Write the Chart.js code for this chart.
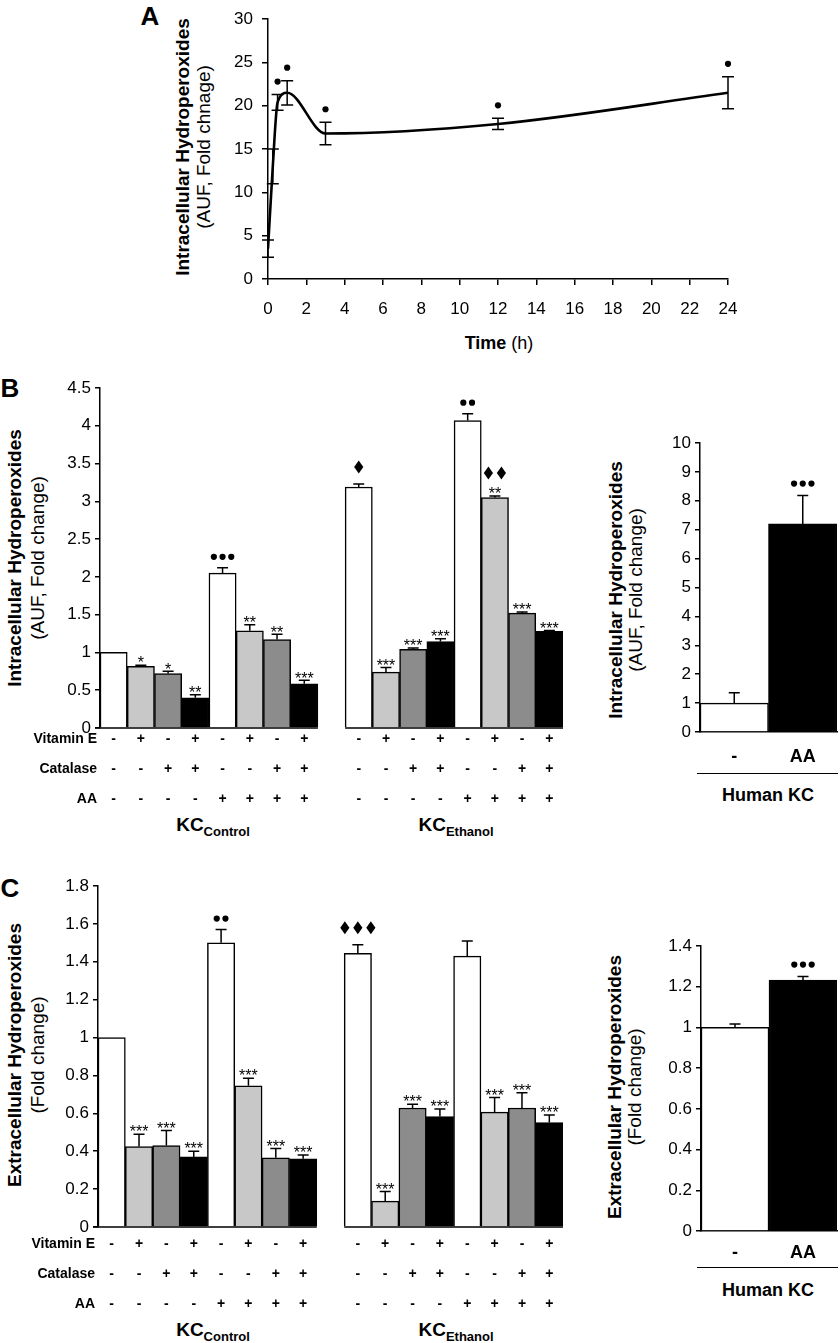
<!DOCTYPE html>
<html>
<head>
<meta charset="utf-8">
<script src="https://cdn.jsdelivr.net/npm/chart.js@4/dist/chart.umd.min.js"></script>
<style>
  body { margin: 0; background: #fff; width: 840px; height: 1343px; position: relative; overflow: hidden;
         font-family: "Liberation Sans", Arial, sans-serif; color: #000; }
  .t { position: absolute; white-space: nowrap; transform: translate(-50%, -50%); line-height: 1; }
  .rot { transform: translate(-50%, -50%) rotate(-90deg); }
  .b { font-weight: bold; }
  .ttl { font-size: 19px; }
  .hline { position: absolute; height: 0; border-top: 1.5px solid #000; }
  sub { font-size: 13px; vertical-align: -5px; }
</style>
</head>
<body>

<div class="t b" style="left:150px;top:16px;font-size:26px">A</div>
<div class="t b" style="left:10px;top:388px;font-size:26px">B</div>
<div class="t b" style="left:10px;top:888px;font-size:26px">C</div>

<!-- axis titles -->
<div class="t rot b ttl" style="left:182px;top:147px">Intracellular Hydroperoxides</div>
<div class="t rot ttl" style="left:203px;top:147px">(AUF, Fold chnage)</div>
<div class="t" style="left:499px;top:343px;font-size:18px"><b>Time</b> (h)</div>

<div class="t rot b ttl" style="left:14px;top:558px">Intracellular Hydroperoxides</div>
<div class="t rot ttl" style="left:37px;top:558px">(AUF, Fold change)</div>
<div class="t rot b ttl" style="left:615px;top:590px">Intracellular Hydroperoxides</div>
<div class="t rot ttl" style="left:635px;top:590px">(AUF, Fold change)</div>

<div class="t rot b ttl" style="left:14px;top:1055px">Extracellular Hydroperoxides</div>
<div class="t rot ttl" style="left:37px;top:1055px">(Fold change)</div>
<div class="t rot b ttl" style="left:614px;top:1087px">Extracellular Hydroperoxides</div>
<div class="t rot ttl" style="left:634px;top:1087px">(Fold change)</div>

<!-- group labels -->
<div class="t b" style="left:213px;top:826px;font-size:19px">KC<sub>Control</sub></div>
<div class="t b" style="left:456px;top:826px;font-size:19px">KC<sub>Ethanol</sub></div>
<div class="t b" style="left:213px;top:1331px;font-size:19px">KC<sub>Control</sub></div>
<div class="t b" style="left:456px;top:1331px;font-size:19px">KC<sub>Ethanol</sub></div>

<div class="hline" style="left:697px;top:773px;width:141px"></div>
<div class="t b" style="left:768px;top:795px;font-size:18px">Human KC</div>
<div class="hline" style="left:697px;top:1267px;width:141px"></div>
<div class="t b" style="left:768px;top:1290px;font-size:18px">Human KC</div>

<script>
// ---- panel A: time course
const timeA = [0, 0.25, 0.5, 1, 3, 12, 24];
const meanA = [3.5, 13.0, 20.4, 21.5, 16.8, 17.9, 21.5];
const semA = [1.0, 2.0, 0.9, 1.4, 1.3, 0.65, 1.85];
const sigA = ["", "", "•", "•", "•", "•", "•"];

// ---- treatment rows under the KC bars (8 + gap + 8)
const rowNames = ["Vitamin E", "Catalase", "AA"];
const vitE = ["-", "+", "-", "+", "-", "+", "-", "+", "", "-", "+", "-", "+", "-", "+", "-", "+"];
const catalase = ["-", "-", "+", "+", "-", "-", "+", "+", "", "-", "-", "+", "+", "-", "-", "+", "+"];
const aa = ["-", "-", "-", "-", "+", "+", "+", "+", "", "-", "-", "-", "-", "+", "+", "+", "+"];

// ---- panel B: intracellular
const intraKC = [1.0, 0.815, 0.72, 0.40, 2.05, 1.286, 1.17, 0.586, null,
                 3.19, 0.74, 1.04, 1.145, 4.07, 3.05, 1.52, 1.28];
const intraKCErr = [0, 0.015, 0.03, 0.04, 0.07, 0.08, 0.07, 0.045, 0,
                    0.04, 0.06, 0.02, 0.035, 0.09, 0.02, 0.015, 0.01];
const intraKCSig = ["", "*", "*", "**", "•••", "**", "**", "***", "",
                    "♦", "***", "***", "***", "••", "♦♦\n**", "***", "***"];

const humanCats = ["-", "AA"];
const intraHuman = [1.0, 7.2];
const intraHumanErr = [0.36, 0.98];
const intraHumanSig = ["", "•••"];

// ---- panel C: extracellular
const extraKC = [1.0, 0.425, 0.43, 0.37, 1.50, 0.745, 0.365, 0.36, null,
                 1.444, 0.137, 0.628, 0.583, 1.43, 0.606, 0.628, 0.551];
const extraKCErr = [0, 0.065, 0.08, 0.03, 0.07, 0.04, 0.05, 0.02, 0,
                    0.046, 0.05, 0.02, 0.04, 0.08, 0.077, 0.08, 0.04];
const extraKCSig = ["", "***", "***", "***", "••", "***", "***", "***", "",
                    "♦♦♦", "***", "***", "***", "", "***", "***", "***"];

const extraHuman = [1.0, 1.232];
const extraHumanErr = [0.017, 0.018];
const extraHumanSig = ["", "•••"];

const barColors = ["#ffffff", "#c8c8c8", "#8c8c8c", "#000000"];
const FONT = '"Liberation Sans", Arial, sans-serif';
Chart.defaults.font.family = FONT;
Chart.defaults.color = "#000";

// canvas placed so the plot area lands on `area` (page pixels)
function place(box, area) {
  const cv = document.createElement("canvas");
  cv.width = box.r - box.l;
  cv.height = box.b - box.t;
  cv.style.position = "absolute";
  cv.style.left = box.l + "px";
  cv.style.top = box.t + "px";
  document.body.appendChild(cv);
  return {
    cv: cv,
    pad: { top: area.t - box.t, right: box.r - area.r, left: 0, bottom: 0 },
    yw: area.l - box.l,
    xh: box.b - area.b,
  };
}

function drawSig(ctx, s, x, y, dotGap) {
  if (!s) return;
  let cur = y;
  s.split("\n").reverse().forEach((ln) => {
    const n = ln.length;
    if (ln[0] === "•") {
      const cy = cur - dotGap;
      for (let k = 0; k < n; k++) {
        ctx.beginPath();
        ctx.arc(x + (k - (n - 1) / 2) * 8.7, cy, 3.1, 0, Math.PI * 2);
        ctx.fill();
      }
      cur = cy;
    } else if (ln[0] === "♦") {
      const cy = cur - 17;
      for (let k = 0; k < n; k++) {
        const dx = x + (k - (n - 1) / 2) * 13;
        ctx.beginPath();
        ctx.moveTo(dx, cy - 6.5);
        ctx.lineTo(dx + 4.6, cy);
        ctx.lineTo(dx, cy + 6.5);
        ctx.lineTo(dx - 4.6, cy);
        ctx.closePath();
        ctx.fill();
      }
      cur = cy;
    } else {
      const cy = cur - 6;
      ctx.font = "16px " + FONT;
      ctx.textAlign = "center";
      ctx.textBaseline = "alphabetic";
      ctx.fillText(ln, x, cy + 9.2);
      cur = cy;
    }
  });
}

// error bars, significance marks, split baseline and treatment rows
function marksPlugin(errs, sigs, o) {
  return {
    id: "marks",
    afterDatasetsDraw(chart) {
      const ctx = chart.ctx;
      const ys = chart.scales.y;
      const ds = chart.data.datasets[0].data;
      const els = chart.getDatasetMeta(0).data;
      const area = chart.chartArea;
      ctx.save();
      ctx.strokeStyle = "#000";
      ctx.fillStyle = "#000";
      ctx.lineWidth = 1.5;
      els.forEach((el, i) => {
        const raw = ds[i];
        const v = raw !== null && typeof raw === "object" ? raw.y : raw;
        if (v === null || v === undefined) return;
        const e = errs[i] || 0;
        const yTop = ys.getPixelForValue(v + e);
        if (e > 0) {
          const yBot = o.both ? ys.getPixelForValue(v - e) : el.y;
          ctx.beginPath();
          ctx.moveTo(el.x, yBot);
          ctx.lineTo(el.x, yTop);
          ctx.moveTo(el.x - o.cap, yTop);
          ctx.lineTo(el.x + o.cap, yTop);
          if (o.both) {
            ctx.moveTo(el.x - o.cap, yBot);
            ctx.lineTo(el.x + o.cap, yBot);
          }
          ctx.stroke();
        }
        drawSig(ctx, sigs[i], el.x, yTop, o.dotGap || 11);
      });
      if (o.groups) {
        const half = (els[1].x - els[0].x) / 2;
        ctx.beginPath();
        o.groups.forEach(([a, b]) => {
          ctx.moveTo(a === 0 ? area.left - 5 : els[a].x - half, area.bottom);
          ctx.lineTo(els[b].x + half, area.bottom);
        });
        ctx.stroke();
      }
      if (o.rows) {
        ctx.font = "bold 14px " + FONT;
        ctx.textAlign = "right";
        ctx.textBaseline = "middle";
        o.rows.forEach((name, r) => {
          ctx.fillText(name, area.left - 3, area.bottom + o.xPad + 15 + r * 30);
        });
      }
      ctx.restore();
    },
  };
}

function yAxis(L, max, step, digits) {
  return {
    min: 0, max: max,
    border: { display: true, color: "#000", width: 1.5 },
    grid: { drawOnChartArea: false, drawTicks: true, tickLength: 5, color: "#000", lineWidth: 1.5 },
    ticks: { stepSize: step, padding: 4, font: { size: 17 }, color: "#000",
             callback: (v) => String(+v.toFixed(digits)) },
    afterFit: (s) => { s.width = L.yw; },
  };
}

function barChart(box, area, labels, values, errs, sigs, colors, o) {
  const L = place(box, area);
  return new Chart(L.cv, {
    type: "bar",
    data: {
      labels: labels,
      datasets: [{
        data: values,
        backgroundColor: colors,
        borderColor: "#000",
        borderWidth: 1.5,
        barPercentage: 1,
        categoryPercentage: 1,
      }],
    },
    options: {
      responsive: false, animation: false, devicePixelRatio: 1,
      layout: { padding: L.pad },
      plugins: { legend: { display: false }, tooltip: { enabled: false } },
      scales: {
        x: {
          grid: { display: false, drawTicks: false, tickLength: 0 },
          border: { display: !o.groups, color: "#000", width: 1.5 },
          ticks: { autoSkip: false, maxRotation: 0, minRotation: 0, padding: o.xPad, color: "#000", font: o.xFont },
          afterFit: (s) => { s.height = L.xh; },
        },
        y: yAxis(L, o.max, o.step, 1),
      },
    },
    plugins: [marksPlugin(errs, sigs, o)],
  });
}

// ---- A
(function () {
  const L = place({ l: 200, t: 0, r: 752, b: 330 }, { l: 268, t: 11, r: 728, b: 279 });
  new Chart(L.cv, {
    type: "line",
    data: {
      datasets: [{
        data: timeA.map((t, i) => ({ x: t, y: meanA[i] })),
        borderColor: "#000",
        borderWidth: 2.6,
        pointRadius: 0,
        cubicInterpolationMode: "monotone",
        fill: false,
      }],
    },
    options: {
      responsive: false, animation: false, devicePixelRatio: 1,
      layout: { padding: L.pad },
      plugins: { legend: { display: false }, tooltip: { enabled: false } },
      scales: {
        x: {
          type: "linear", min: 0, max: 24,
          border: { display: true, color: "#000", width: 1.5 },
          grid: { drawOnChartArea: false, drawTicks: true, tickLength: 6, color: "#000", lineWidth: 1.5 },
          ticks: { stepSize: 2, padding: 14, font: { size: 17 }, color: "#000" },
          afterFit: (s) => { s.height = L.xh; },
        },
        y: Object.assign(yAxis(L, 30, 5, 0), {
          grid: { drawOnChartArea: false, drawTicks: true, tickLength: 6, color: "#000", lineWidth: 1.5 },
          ticks: { stepSize: 5, padding: 9, font: { size: 17 }, color: "#000" },
        }),
      },
    },
    plugins: [marksPlugin(semA, sigA, { both: true, cap: 6, dotGap: 13 })],
  });
})();

// ---- B
const kcLabels = vitE.map((v, i) => [v, catalase[i], aa[i]]);
const kcColors = vitE.map((v, i) => (i === 8 ? "#fff" : barColors[(i > 8 ? i - 1 : i) % 4]));
const signFont = { size: 14, weight: "bold", lineHeight: "30px" };

barChart({ l: 20, t: 370, r: 580, b: 815 }, { l: 100, t: 388, r: 563, b: 728 },
  kcLabels, intraKC, intraKCErr, intraKCSig, kcColors,
  { max: 4.5, step: 0.5, cap: 5.5, groups: [[0, 7], [9, 16]], rows: rowNames, xPad: -4, xFont: signFont });

barChart({ l: 640, t: 425, r: 840, b: 770 }, { l: 700, t: 443, r: 837, b: 732 },
  humanCats, intraHuman, intraHumanErr, intraHumanSig, ["#ffffff", "#000000"],
  { max: 10, step: 1, cap: 5.5, xPad: 15, xFont: { size: 18, weight: "bold", lineHeight: "20px" }, dotGap: 12 });

// ---- C
barChart({ l: 20, t: 870, r: 580, b: 1322 }, { l: 98, t: 886, r: 563, b: 1227 },
  kcLabels, extraKC, extraKCErr, extraKCSig, kcColors,
  { max: 1.8, step: 0.2, cap: 5.5, groups: [[0, 7], [9, 16]], rows: rowNames, xPad: 2, xFont: signFont });

barChart({ l: 640, t: 930, r: 840, b: 1265 }, { l: 701, t: 946, r: 837, b: 1231 },
  humanCats, extraHuman, extraHumanErr, extraHumanSig, ["#ffffff", "#000000"],
  { max: 1.4, step: 0.2, cap: 5.5, xPad: 12, xFont: { size: 18, weight: "bold", lineHeight: "20px" }, dotGap: 12 });
</script>
</body>
</html>
